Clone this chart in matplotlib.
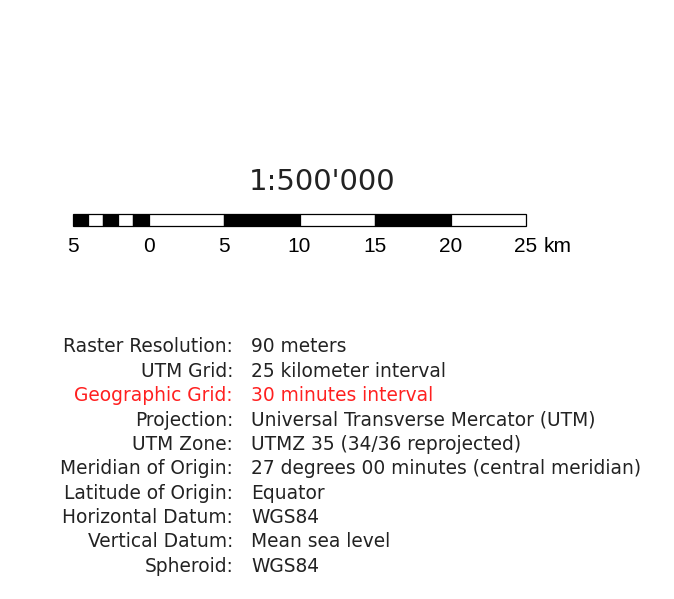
import matplotlib
matplotlib.use("Agg")
import matplotlib.pyplot as plt
from matplotlib.transforms import blended_transform_factory

# ---- data ----
scale_title = "1:500'000"
left_edges = [-5, -4, -3, -2, -1, 0, 5, 10, 15, 20]
right_edges = [-4, -3, -2, -1, 0, 5, 10, 15, 20, 25]
seg_fill = ["black", "white", "black", "white", "black", "white", "black", "white", "black", "white"]
tick_values = [-5, 0, 5, 10, 15, 20, 25]
tick_labels = ["5", "0", "5", "10", "15", "20", "25"]
unit_label = "km"

info_keys = ["Raster Resolution:", "UTM Grid:", "Geographic Grid:", "Projection:", "UTM Zone:",
             "Meridian of Origin:", "Latitude of Origin:", "Horizontal Datum:", "Vertical Datum:", "Spheroid:"]
info_values = ["90 meters", "25 kilometer interval", "30 minutes interval",
               "Universal Transverse Mercator (UTM)", "UTMZ 35 (34/36 reprojected)",
               "27 degrees 00 minutes (central meridian)", "Equator", "WGS84",
               "Mean sea level", "WGS84"]
info_colors = ["#222222", "#222222", "#ff2020", "#222222", "#222222",
               "#222222", "#222222", "#222222", "#222222", "#222222"]

W, H = 674, 599
fig = plt.figure(figsize=(W / 100, H / 100), dpi=100)
fig.patch.set_facecolor("white")

def fx(px):
    return px / W

def fy(py):
    return 1 - py / H

# scale bar axes
ax = fig.add_axes([fx(73), fy(225.5), fx(526) - fx(73), fy(214) - fy(225.5)])
ax.set_xlim(-5, 25)
ax.set_ylim(0, 1)
for l, r, c in zip(left_edges, right_edges, seg_fill):
    ax.barh(0.5, r - l, left=l, height=1.0, color=c, edgecolor="black",
            linewidth=0.9, clip_on=False)
ax.axis("off")

sans = ["Liberation Sans", "DejaVu Sans"]
tr = blended_transform_factory(ax.transData, fig.transFigure)
for v, lab in zip(tick_values, tick_labels):
    ax.text(v, fy(246), lab, transform=tr, ha="center", va="center",
            fontsize=15, family=sans, color="black")
ax.text(26.15, fy(246), unit_label, transform=tr, ha="left", va="center",
        fontsize=15, family=sans, color="black")

fig.text(fx(322), fy(182), scale_title, ha="center", va="center",
         fontsize=21, family="DejaVu Sans", color="#222222")

y0 = 347
dy = 24.35
for i, (k, v, c) in enumerate(zip(info_keys, info_values, info_colors)):
    y = fy(y0 + i * dy)
    fig.text(fx(233), y, k, ha="right", va="center", fontsize=13.4,
             family="DejaVu Sans", color=c)
    fig.text(fx(251), y, v, ha="left", va="center", fontsize=13.4,
             family="DejaVu Sans", color=c)

fig.savefig("out.png", dpi=100, facecolor="white")
